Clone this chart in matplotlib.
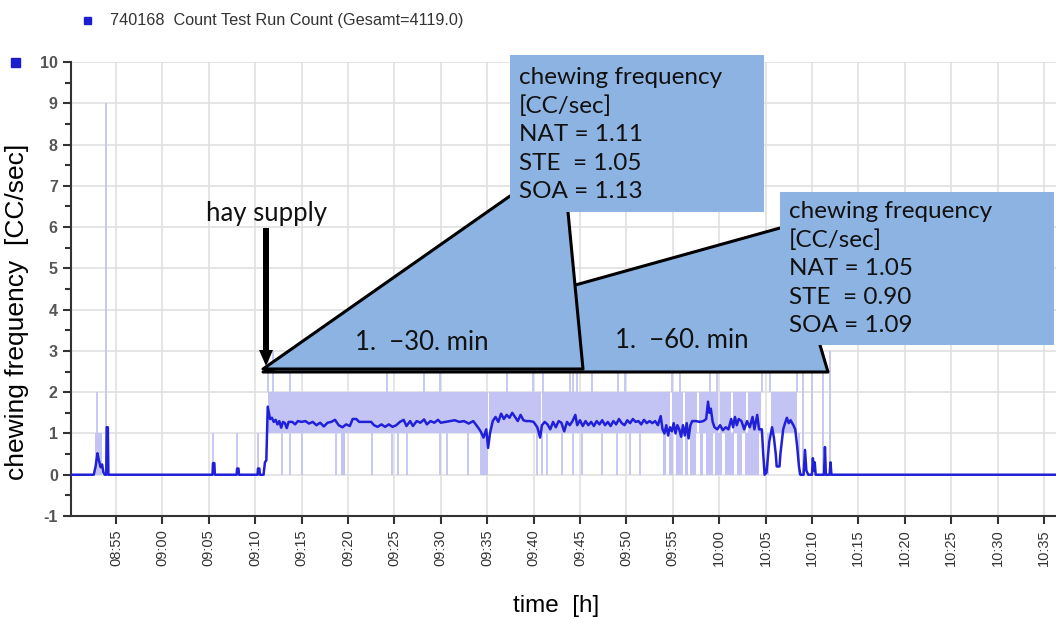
import matplotlib
matplotlib.use("Agg")
import matplotlib.pyplot as plt
from matplotlib.patches import Polygon, Rectangle

# ---- data (x = minutes after 08:50) ----
tick_labels = ["08:55", "09:00", "09:05", "09:10", "09:15", "09:20", "09:25",
               "09:30", "09:35", "09:40", "09:45", "09:50", "09:55", "10:00",
               "10:05", "10:10", "10:15", "10:20", "10:25", "10:30", "10:35"]

# smoothed chewing frequency (blue line)
line_t = [0.0, 2.6, 2.8, 3.0, 3.15, 3.35, 3.5, 3.65, 3.8, 3.95, 4.0, 4.12, 4.18,
          15.4, 15.45, 15.6, 15.65, 18.0, 18.05, 18.2, 18.25, 20.25, 20.3, 20.45, 20.5,
          20.9, 21.05, 21.2, 21.35, 21.6, 21.8, 22.0, 22.2, 22.4, 22.6, 22.8, 23.0,
          23.2, 23.4, 23.6, 24.0, 24.3, 24.6, 25.0, 25.4, 25.8, 26.2, 26.6, 27.0,
          27.4, 27.8, 28.2, 28.6, 29.0, 29.4, 29.8, 30.2, 30.5, 30.9, 31.2, 32.5,
          32.8, 33.2, 33.6, 34.0, 34.4, 34.8, 35.2, 35.6, 36.0, 36.3, 36.7, 37.0,
          37.4, 37.8, 38.2, 38.5, 38.9, 39.3, 39.7, 40.0, 40.5, 41.0, 41.5, 42.0,
          42.5, 43.0, 43.5, 44.0, 44.3, 44.6, 44.9, 45.1, 45.3, 45.6, 45.9, 46.2,
          46.5, 46.8, 47.1, 47.4, 47.7, 48.0, 48.3, 48.6, 48.9, 49.2, 49.6, 50.0,
          50.4, 50.7, 50.9, 51.2, 51.5, 51.8, 52.1, 52.4, 52.7, 53.0, 53.3, 53.6,
          53.9, 54.2, 54.5, 54.7, 55.0, 55.3, 55.6, 55.9, 56.2, 56.5, 56.8, 57.1,
          57.4, 57.7, 58.0, 58.3, 58.6, 58.9, 59.2, 59.5, 59.8, 60.1, 60.4, 60.7,
          61.0, 61.3, 61.6, 61.9, 62.2, 62.5, 62.8, 63.1, 63.4, 63.7, 63.9, 64.1,
          64.3, 64.5, 64.7, 64.9, 65.1, 65.3, 65.5, 65.7, 65.9, 66.1, 66.3, 66.5,
          66.7, 66.9, 67.1, 67.5, 67.9, 68.3, 68.6, 68.8, 68.95, 69.1, 69.3, 69.5,
          69.8, 70.1, 70.4, 70.7, 71.0, 71.3, 71.5, 71.7, 71.9, 72.1, 72.4, 72.7,
          73.0, 73.3, 73.6, 73.8, 74.1, 74.3, 74.6, 74.75, 74.9, 75.1, 75.4, 75.7,
          75.9, 76.1, 76.2, 76.5, 76.6, 76.9, 77.1, 77.3, 77.5, 77.7, 78.0, 78.2,
          78.4, 78.6, 78.75, 79.1, 79.25, 79.4, 79.6, 80.0, 80.1, 80.2, 80.3, 80.4,
          81.3, 81.4, 81.5, 81.9, 82.0, 82.1, 106.5]
line_v = [0.0, 0.0, 0.2, 0.52, 0.35, 0.18, 0.25, 0.05, 0.0, 0.0, 1.15, 1.15, 0.0,
          0.0, 0.28, 0.28, 0.0, 0.0, 0.15, 0.15, 0.0, 0.0, 0.15, 0.15, 0.0,
          0.0, 0.3, 0.35, 1.65, 1.35, 1.38, 1.28, 1.33, 1.22, 1.3, 1.14, 1.28,
          1.25, 1.13, 1.28, 1.28, 1.22, 1.3, 1.28, 1.3, 1.24, 1.28, 1.2, 1.26,
          1.17, 1.26, 1.28, 1.33, 1.2, 1.15, 1.22, 1.18, 1.35, 1.35, 1.28, 1.28,
          1.2, 1.16, 1.22, 1.16, 1.22, 1.16, 1.2, 1.28, 1.33, 1.18, 1.3, 1.18,
          1.3, 1.26, 1.34, 1.22, 1.3, 1.26, 1.33, 1.26, 1.28, 1.3, 1.32, 1.28,
          1.3, 1.24, 1.3, 1.15, 1.05, 0.9, 1.1, 0.65, 1.0, 1.3, 1.4, 1.28,
          1.48, 1.35, 1.45, 1.38, 1.5, 1.4, 1.3, 1.45, 1.32, 1.3, 1.3, 1.28,
          1.15, 0.9, 1.2, 1.28, 1.22, 1.1, 1.28, 1.15, 1.3, 1.26, 1.05, 1.28,
          1.2, 1.3, 1.45, 1.2, 1.32, 1.18, 1.3, 1.2, 1.28, 1.18, 1.3, 1.22,
          1.32, 1.2, 1.28, 1.18, 1.3, 1.22, 1.35, 1.25, 1.2, 1.32, 1.25, 1.35,
          1.28, 1.3, 1.22, 1.33, 1.25, 1.3, 1.25, 1.3, 1.2, 1.42, 1.1, 1.0,
          1.2, 0.95, 1.15, 1.05, 1.25, 1.0, 1.2, 1.1, 0.92, 1.2, 0.95, 1.25,
          0.88, 1.2, 1.3, 1.3, 1.28, 1.3, 1.35, 1.77, 1.5, 1.6, 1.28, 1.15,
          1.1, 1.2, 1.08, 1.15, 1.1, 1.35, 1.15, 1.4, 1.2, 1.35, 1.3, 1.1,
          1.3, 1.15, 1.4, 1.1, 1.45, 1.1, 1.1, 0.5, 0.0, 0.05, 0.8, 1.15,
          0.9, 0.5, 0.2, 0.2, 0.5, 1.1, 1.25, 1.38, 1.25, 1.32, 1.2, 1.1,
          0.7, 0.2, 0.0, 0.0, 0.6, 0.1, 0.0, 0.0, 0.4, 0.1, 0.3, 0.0,
          0.0, 0.67, 0.0, 0.0, 0.3, 0.0, 0.0]

# raw counts (light lavender): spans oscillating between 1 and 2
band_spans = [(21.4, 45.05), (45.2, 50.8), (50.95, 64.7), (64.9, 66.1), (66.3, 67.6),
              (67.8, 69.9), (70.1, 71.3), (71.5, 72.9), (73.1, 74.5), (75.6, 78.4)]
# spans with frequent drops to 0
low_spans = [(2.74, 3.46), (29.25, 29.68), (44.22, 45.09), (64.0, 64.3), (64.6, 65.0),
             (65.3, 65.9), (66.3, 66.6), (66.9, 67.5), (67.9, 68.3), (68.6, 69.3),
             (69.6, 70.3), (70.6, 71.6), (71.9, 72.5), (72.8, 74.3)]
drop_t = [15.45, 18.04, 20.3, 22.86, 23.75, 25.01, 28.71, 32.59, 34.71, 35.39, 36.33,
          39.91, 40.64, 42.93, 50.33, 50.87, 51.41, 53.03, 54.25, 55.18, 57.34, 58.95,
          60.39, 61.47, 64.2, 66.0, 69.9, 75.3, 78.6]
spike_t = [21.38, 21.89, 23.75, 34.17, 38.19, 39.91, 47.1, 49.93, 51.01, 53.92, 54.25,
           54.68, 56.26, 59.09, 59.85, 64.88, 65.78, 69.0, 69.72, 74.58, 75.52, 78.35]
late_t = [79.03, 79.97, 81.19, 81.94]
early_t = [2.91, 3.89]
early_v = [2, 9]

callout_30 = ["chewing frequency", "[CC/sec]", "NAT = 1.11", "STE  = 1.05", "SOA = 1.13"]
callout_60 = ["chewing frequency", "[CC/sec]", "NAT = 1.05", "STE  = 0.90", "SOA = 1.09"]

# ---- figure ----
W, H = 1056, 617
fig = plt.figure(figsize=(W / 100, H / 100), dpi=100)
ax = fig.add_axes([71 / W, 1 - 516 / H, (W - 71) / W, (516 - 62) / H])


def fp(x, y):
    # reference pixel -> figure fraction
    return (x / W, 1 - y / H)


lav = "#c4c4f4"
for a, b in band_spans:
    ax.fill_between([a, b], 1, 2, color=lav, lw=0, zorder=1)
for a, b in low_spans:
    ax.fill_between([a, b], 0, 1, color=lav, lw=0, zorder=1)
ax.vlines(drop_t, 0, 1, color=lav, lw=1.3, zorder=1)
ax.vlines(spike_t, 2, 3, color=lav, lw=1.3, zorder=1)
ax.vlines(late_t, 0, 3, color=lav, lw=1.3, zorder=1)
ax.vlines(early_t, 0, early_v, color=lav, lw=1.3, zorder=1)

ax.plot(line_t, line_v, color="#2020d8", lw=1.8, zorder=3)

ax.set_xlim(0.15, 106.3)
ax.set_ylim(-1, 10)
ax.set_xticks(range(5, 106, 5))
ax.set_xticklabels(tick_labels, rotation=90, fontsize=10.5, color="#333333",
                   family="Liberation Sans")
ax.set_yticks(range(-1, 11))
ax.set_yticklabels([str(v) for v in range(-1, 11)], fontsize=11.5, color="#555555",
                   fontweight="bold", family="Liberation Sans")
ax.set_yticks([v + 0.5 for v in range(-1, 10)], minor=True)
ax.tick_params(axis="both", which="major", length=6, width=1.5, color="#333333")
ax.tick_params(axis="y", which="minor", length=4, width=1.5, color="#333333")
ax.grid(True, which="major", color="#e0e0e0", lw=1.2, zorder=0)
ax.set_axisbelow(True)
for s in ["top", "right"]:
    ax.spines[s].set_visible(False)
for s in ["left", "bottom"]:
    ax.spines[s].set_color("#333333")
    ax.spines[s].set_linewidth(1.5)

ax.set_ylabel("chewing frequency  [CC/sec]", fontsize=19, family="Liberation Sans")
ax.yaxis.set_label_coords(-0.043, 0.45)
ax.set_xlabel("time  [h]", fontsize=17.5, family="Liberation Sans")
ax.xaxis.set_label_coords(0.493, -0.175)

# legend-ish header
fig.add_artist(Rectangle(fp(84, 24), 7 / W, 7 / H, transform=fig.transFigure,
                         color="#1c1cd0"))
fig.text(*fp(110, 21), "740168  Count Test Run Count (Gesamt=4119.0)", fontsize=11.7,
         family="Liberation Sans", color="#333333", va="center")
fig.add_artist(Rectangle(fp(11, 67), 9 / W, 9 / H, transform=fig.transFigure,
                         color="#1c1cd0"))

# ---- callouts ----
blue = "#8db3e2"
cfont = "Lato"


def poly(pts, **kw):
    fig.add_artist(Polygon([fp(x, y) for x, y in pts], closed=True,
                           transform=fig.transFigure, **kw))


def seg(pts, z):
    xs, ys = zip(*[fp(x, y) for x, y in pts])
    fig.add_artist(plt.Line2D(xs, ys, transform=fig.transFigure, color="black",
                              lw=2.2, zorder=z, solid_capstyle="round"))


# 60 min callout (behind)
poly([(780, 228), (263, 372), (828, 372), (820, 345), (780, 345)], color=blue, lw=0, zorder=5)
seg([(780, 228), (263, 372), (828, 372), (820, 345)], 6)
poly([(780, 192), (1054, 192), (1054, 345), (780, 345)], color=blue, lw=0, zorder=7)

# 30 min callout (front)
poly([(510, 196), (263, 369), (583, 369), (568, 212), (510, 212)], color=blue, lw=0, zorder=8)
seg([(510, 196), (263, 369), (583, 369), (568, 212)], 9)
poly([(510, 55), (764, 55), (764, 212), (510, 212)], color=blue, lw=0, zorder=10)

for i, s in enumerate(callout_30):
    fig.text(*fp(519, 77 + i * 28.7), s, fontsize=17.5, family=cfont, va="center",
             color="#111111", zorder=11)
for i, s in enumerate(callout_60):
    fig.text(*fp(789, 211 + i * 28.7), s, fontsize=17.5, family=cfont, va="center",
             color="#111111", zorder=11)

fig.text(*fp(422, 343), "1.  \u221230. min", fontsize=18.5, family=cfont, ha="center",
         va="center", color="#111111", zorder=11)
fig.text(*fp(682, 340), "1.  \u221260. min", fontsize=18.5, family=cfont, ha="center",
         va="center", color="#111111", zorder=11)

# hay supply arrow
fig.text(*fp(266, 214), "hay supply", fontsize=18.5, family=cfont, ha="center",
         va="center", color="#111111", zorder=11)
poly([(263, 228), (269, 228), (269, 350), (273, 350), (266, 366), (259, 350), (263, 350)],
     color="black", lw=0, zorder=11)

fig.savefig("out.png", dpi=100)
